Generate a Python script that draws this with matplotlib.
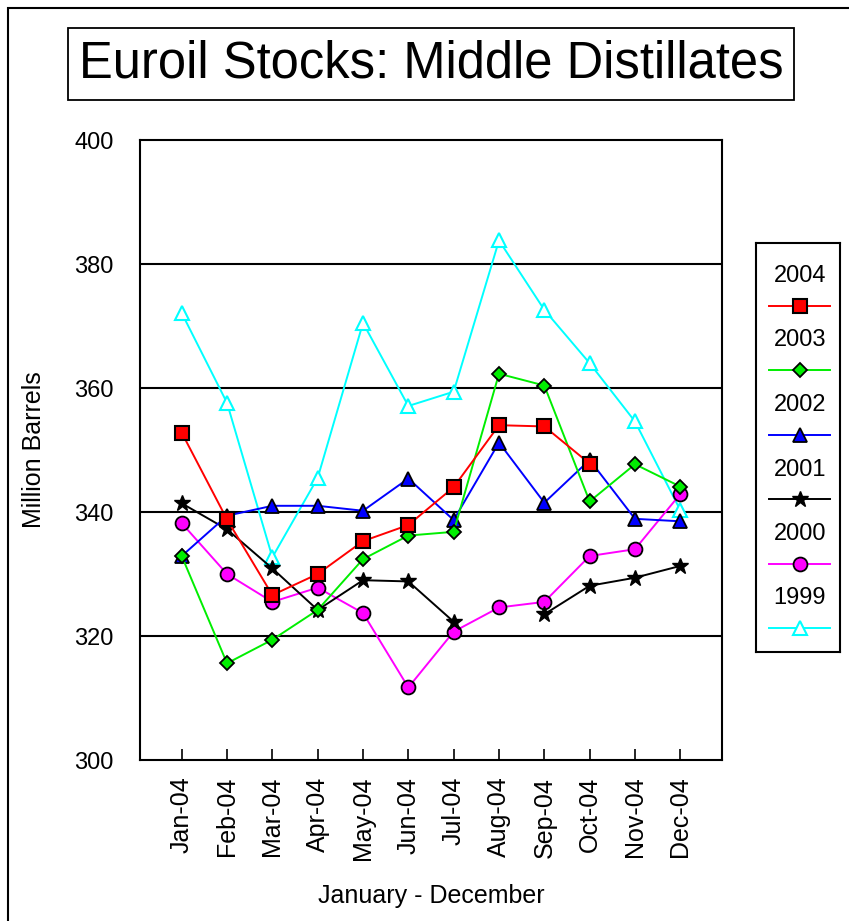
import numpy as np
import matplotlib
matplotlib.use("Agg")
import matplotlib.pyplot as plt
from matplotlib.patches import Rectangle

plt.rcParams['font.family'] = ['Liberation Sans', 'DejaVu Sans']

months = ['Jan-04', 'Feb-04', 'Mar-04', 'Apr-04', 'May-04', 'Jun-04',
          'Jul-04', 'Aug-04', 'Sep-04', 'Oct-04', 'Nov-04', 'Dec-04']

nan = np.nan
y2004 = [352.8, 338.8, 326.6, 330.0, 335.3, 337.9, 344.0, 354.0, 353.8, 347.8, nan, nan]
y2003 = [332.9, 315.6, 319.4, 324.2, 332.4, 336.2, 336.8, 362.3, 360.4, 341.7, 347.7, 344.1]
y2002 = [332.9, 339.4, 341.0, 341.0, 340.2, 345.4, 338.7, 351.2, 341.5, 348.4, 338.9, 338.5]
y2001 = [341.4, 337.2, 330.9, 324.2, 329.0, 328.8, 322.3, nan, 323.5, 328.1, 329.4, 331.3]
y2000 = [338.2, 330.0, 325.5, 327.8, 323.7, 311.7, 320.7, 324.6, 325.5, 332.9, 334.0, 342.9]
y1999 = [372.1, 357.6, 332.7, 345.5, 370.5, 357.1, 359.4, 383.8, 372.6, 364.0, 354.6, 340.3]

series = [
    ('2004', y2004, dict(color='red', marker='s', markersize=10, markerfacecolor='red', markeredgecolor='black', markeredgewidth=1.5)),
    ('2003', y2003, dict(color='#00ee00', marker='D', markersize=7, markerfacecolor='#00ee00', markeredgecolor='black', markeredgewidth=1.3)),
    ('2002', y2002, dict(color='blue', marker='^', markersize=10, markerfacecolor='blue', markeredgecolor='black', markeredgewidth=1.3)),
    ('2001', y2001, dict(color='black', marker='*', markersize=12, markerfacecolor='black', markeredgecolor='black', markeredgewidth=1)),
    ('2000', y2000, dict(color='magenta', marker='o', markersize=10, markerfacecolor='magenta', markeredgecolor='black', markeredgewidth=1.3)),
    ('1999', y1999, dict(color='cyan', marker='^', markersize=10, markerfacecolor='white', markeredgecolor='cyan', markeredgewidth=1.5)),
]

fig = plt.figure(figsize=(8.49, 9.21), dpi=100)
ax = fig.add_axes([140/849, 1-760/921, 582/849, 620/921])

x = np.arange(len(months))
for name, vals, style in series[::-1]:
    ax.plot(x, vals, linewidth=1.4, **style)

ax.set_ylim(300, 400)
ax.set_xlim(-0.92, 11.92)
ax.set_yticks([300, 320, 340, 360, 380, 400])
for v in [320, 340, 360, 380]:
    ax.axhline(v, color='black', linewidth=1.5, zorder=0.5)
ax.set_xticks(x)
ax.set_xticklabels(months, rotation=90, fontsize=18)
ax.tick_params(axis='x', direction='in', length=8, width=1.2, pad=12)
ax.tick_params(axis='y', length=0, pad=19, labelsize=17)
for s in ax.spines.values():
    s.set_linewidth(1.5)

ax.set_ylabel('Million Barrels', fontsize=18, labelpad=20)
ax.set_xlabel('January - December', fontsize=18, labelpad=17)

# title box
fig.text(431/849, 1-64/921, 'Euroil Stocks: Middle Distillates', fontsize=36.5,
         ha='center', va='center',
         bbox=dict(boxstyle='square,pad=0.22', facecolor='white', edgecolor='black', linewidth=1.3))

# outer frame
fig.patches.append(Rectangle((8/849, -0.5), 2.0, 1.5 - 8/921, transform=fig.transFigure,
                             fill=False, edgecolor='black', linewidth=1.5))

# legend box
lax = fig.add_axes([756/849, 1-652/921, 84/849, 409/921])
lax.set_xlim(0, 1)
lax.set_ylim(652, 243)
lax.set_xticks([])
lax.set_yticks([])
for s in lax.spines.values():
    s.set_linewidth(1.5)
for i, (name, vals, style) in enumerate(series):
    ty = 276 + i * 64.5
    lax.text(0.52, ty, name, fontsize=17, ha='center', va='center')
    lax.plot([0.16, 0.88], [ty + 30, ty + 30], linewidth=1.4, **{k: v for k, v in style.items() if k != 'marker'})
    lax.plot([0.52], [ty + 30], linestyle='none', **style)

fig.savefig('out.png', dpi=100)
